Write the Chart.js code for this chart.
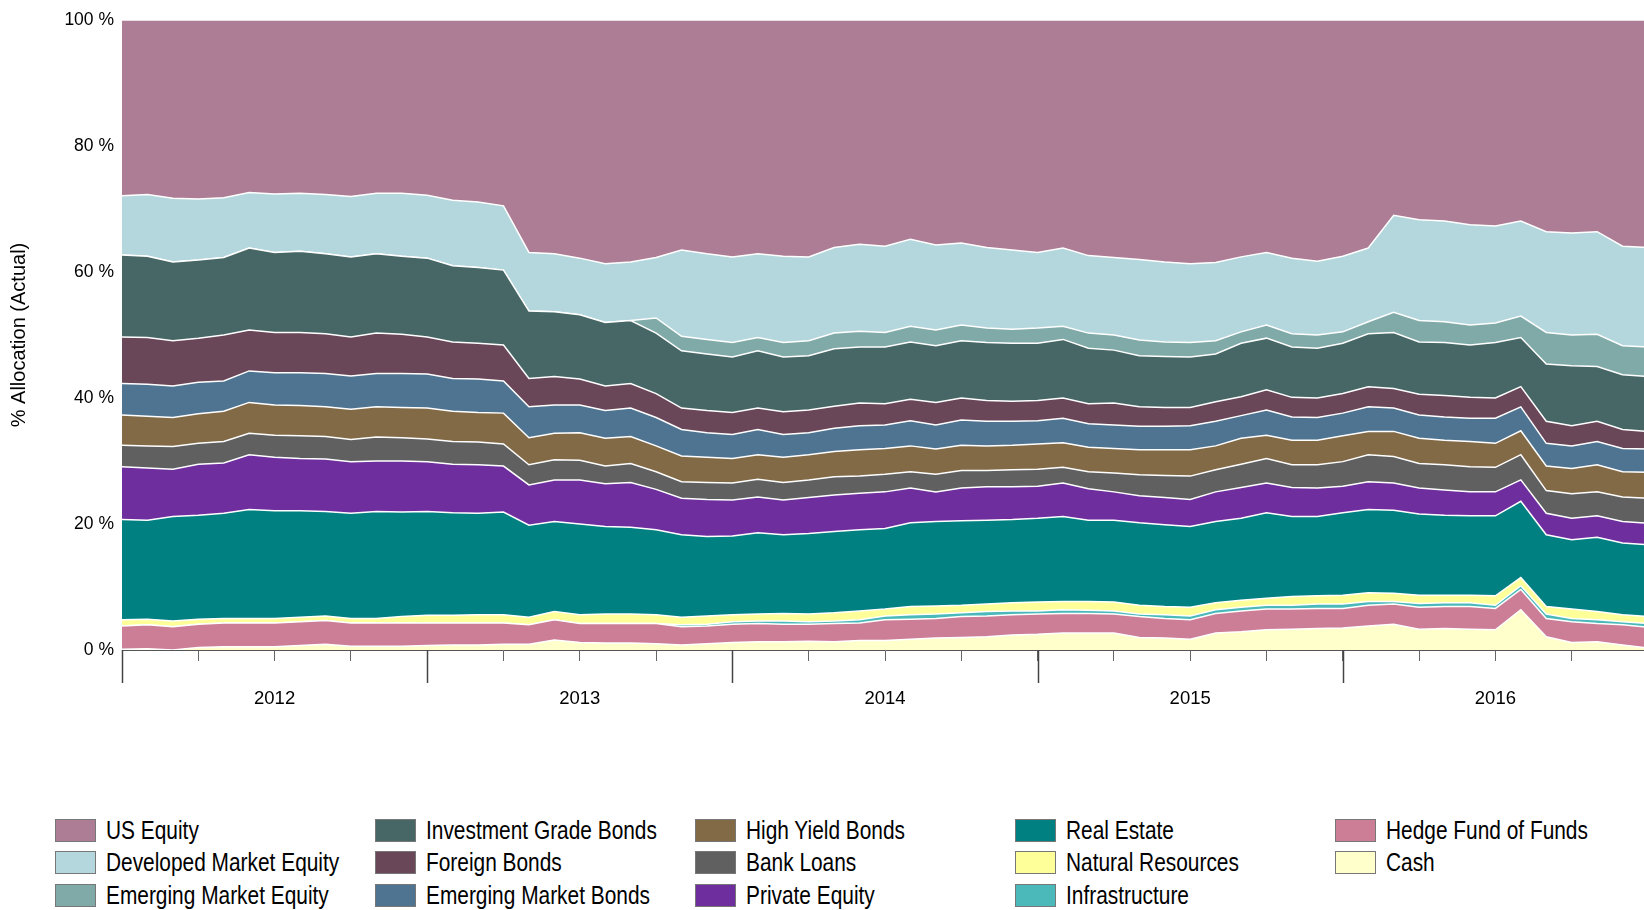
<!DOCTYPE html>
<html>
<head>
<meta charset="utf-8">
<script src="https://cdn.jsdelivr.net/npm/chart.js@4.4.1/dist/chart.umd.min.js"></script>
<style>
  html, body { margin: 0; background: #fff; overflow: hidden; }
  #wrap { position: relative; width: 1644px; height: 910px; overflow: hidden; }
  #chartBox { position: absolute; left: 0; top: 0; width: 1648px; height: 720px; }
  #legend {
    position: absolute; left: 55px; top: 814px;
    display: grid; grid-auto-flow: column;
    grid-template-rows: repeat(3, 32.5px); grid-template-columns: repeat(5, 320px);
    font-family: "Liberation Sans", Arial, sans-serif;
    font-size: 25px; color: #000;
  }
  .item { display: flex; align-items: center; white-space: nowrap; }
  .sw { flex-shrink: 0; width: 39px; height: 21px; border: 1px solid #777; margin-right: 10px; }
  .txt { display: inline-block; transform: scaleX(0.835); transform-origin: left center; }
</style>
</head>
<body>
<div id="wrap">
  <div id="chartBox"><canvas id="chart"></canvas></div>
  <div id="legend"></div>
</div>
<script>
// month-end points, Dec 2011 .. Dec 2016
const months = [
  "Dec 2011",
  "Jan 2012", "Feb 2012", "Mar 2012", "Apr 2012", "May 2012", "Jun 2012", "Jul 2012", "Aug 2012", "Sep 2012", "Oct 2012", "Nov 2012", "Dec 2012",
  "Jan 2013", "Feb 2013", "Mar 2013", "Apr 2013", "May 2013", "Jun 2013", "Jul 2013", "Aug 2013", "Sep 2013", "Oct 2013", "Nov 2013", "Dec 2013",
  "Jan 2014", "Feb 2014", "Mar 2014", "Apr 2014", "May 2014", "Jun 2014", "Jul 2014", "Aug 2014", "Sep 2014", "Oct 2014", "Nov 2014", "Dec 2014",
  "Jan 2015", "Feb 2015", "Mar 2015", "Apr 2015", "May 2015", "Jun 2015", "Jul 2015", "Aug 2015", "Sep 2015", "Oct 2015", "Nov 2015", "Dec 2015",
  "Jan 2016", "Feb 2016", "Mar 2016", "Apr 2016", "May 2016", "Jun 2016", "Jul 2016", "Aug 2016", "Sep 2016", "Oct 2016", "Nov 2016", "Dec 2016"
];

// year labels sit mid-year, long ticks at year starts
const yearLabels = { 6: "2012", 18: "2013", 30: "2014", 42: "2015", 54: "2016" };
const yearStarts = [0, 12, 24, 36, 48];
const yTicks = [0, 20, 40, 60, 80, 100];

// upper edge of each band, cumulative %
const cashTop = [
  0.1, 0.2, 0.0, 0.4, 0.5, 0.5, 0.5, 0.7, 0.9, 0.6, 0.6, 0.6, 0.7, 0.8, 0.8,
  0.9, 0.9, 1.6, 1.2, 1.1, 1.1, 1.0, 0.8, 1.0, 1.2, 1.3, 1.3, 1.4, 1.3, 1.5,
  1.5, 1.7, 1.9, 2.0, 2.1, 2.4, 2.5, 2.7, 2.7, 2.7, 2.0, 1.9, 1.7, 2.7, 2.9, 3.2,
  3.3, 3.4, 3.5, 3.8, 4.1, 3.3, 3.4, 3.3, 3.2, 6.4, 2.1, 1.2, 1.3, 0.8, 0.3
];
const hedgeTop = [
  3.8, 4.0, 3.7, 4.1, 4.3, 4.3, 4.3, 4.5, 4.7, 4.3, 4.3, 4.3, 4.3, 4.3, 4.3,
  4.3, 4.0, 4.8, 4.2, 4.2, 4.2, 4.2, 3.7, 3.8, 4.1, 4.2, 4.1, 4.1, 4.2, 4.3,
  4.8, 4.9, 5.0, 5.3, 5.4, 5.6, 5.7, 5.8, 5.8, 5.7, 5.3, 5.0, 4.8, 5.8, 6.2, 6.5,
  6.5, 6.6, 6.6, 7.1, 7.3, 6.8, 6.9, 6.9, 6.6, 9.6, 5.0, 4.5, 4.2, 4.0, 3.6
];
const infraTop = [
  3.8, 4.0, 3.7, 4.1, 4.3, 4.3, 4.3, 4.5, 4.7, 4.3, 4.3, 4.3, 4.3, 4.3, 4.3,
  4.3, 4.0, 4.8, 4.2, 4.2, 4.2, 4.2, 4.0, 4.1, 4.5, 4.6, 4.6, 4.5, 4.6, 4.8,
  5.4, 5.6, 5.7, 5.9, 6.1, 6.2, 6.2, 6.4, 6.3, 6.2, 5.7, 5.6, 5.4, 6.4, 6.8, 7.1,
  7.1, 7.3, 7.3, 7.7, 7.7, 7.4, 7.5, 7.5, 7.1, 10.2, 5.7, 5.0, 4.8, 4.5, 4.2
];
const natResTop = [
  4.8, 4.9, 4.6, 4.9, 5.0, 5.0, 5.0, 5.2, 5.4, 5.0, 5.0, 5.3, 5.5, 5.5, 5.6,
  5.6, 5.2, 6.1, 5.6, 5.7, 5.7, 5.6, 5.2, 5.4, 5.6, 5.7, 5.8, 5.7, 5.9, 6.2,
  6.5, 6.9, 7.0, 7.1, 7.3, 7.5, 7.6, 7.7, 7.7, 7.6, 7.1, 6.9, 6.8, 7.5, 7.9, 8.2,
  8.5, 8.6, 8.7, 9.1, 9.0, 8.7, 8.7, 8.7, 8.6, 11.5, 6.9, 6.5, 6.1, 5.6, 5.3
];
const realEstateTop = [
  20.7, 20.6, 21.2, 21.4, 21.7, 22.3, 22.1, 22.1, 22.0, 21.7, 22.0, 21.9, 22.0, 21.8, 21.7, 21.9, 19.8, 20.4,
  20.0, 19.6, 19.5, 19.1, 18.3, 18.0, 18.1, 18.6, 18.3, 18.5, 18.8, 19.1, 19.3, 20.2, 20.4, 20.5, 20.6, 20.7, 20.9, 21.2, 20.6,
  20.6, 20.2, 19.9, 19.6, 20.4, 20.9, 21.8, 21.2, 21.2, 21.8, 22.3, 22.2, 21.6, 21.4, 21.3, 21.3, 23.6, 18.3, 17.5, 17.9, 17.0, 16.7
];
const privateEqTop = [
  29.1, 28.9, 28.7, 29.5, 29.7, 31.0, 30.6, 30.4, 30.3, 29.9, 30.0, 30.0, 29.9, 29.5, 29.4, 29.2, 26.2, 27.0,
  27.0, 26.4, 26.6, 25.5, 24.1, 23.9, 23.8, 24.3, 23.8, 24.2, 24.6, 24.9, 25.1, 25.7, 25.1, 25.7, 25.9, 25.9, 26.0, 26.5, 25.6,
  25.1, 24.5, 24.2, 23.9, 25.1, 25.8, 26.5, 25.8, 25.7, 26.0, 26.7, 26.5, 25.7, 25.4, 25.1, 25.1, 27.0, 21.7, 20.9, 21.3, 20.4, 20.1
];
const bankLoansTop = [
  32.5, 32.4, 32.3, 32.8, 33.1, 34.4, 34.1, 34.0, 33.9, 33.4, 33.8, 33.7, 33.5, 33.1, 33.0, 32.7, 29.4, 30.2,
  30.1, 29.2, 29.6, 28.3, 26.7, 26.6, 26.5, 27.1, 26.6, 27.0, 27.5, 27.6, 27.9, 28.3, 27.9, 28.5, 28.5, 28.6, 28.7, 29.0, 28.3,
  28.1, 27.8, 27.7, 27.6, 28.6, 29.5, 30.4, 29.4, 29.4, 29.9, 31.0, 30.7, 29.6, 29.4, 29.1, 29.0, 31.0, 25.3, 24.8, 25.1, 24.3, 24.1
];
const highYieldTop = [
  37.3, 37.1, 36.9, 37.5, 37.9, 39.3, 38.9, 38.8, 38.6, 38.2, 38.6, 38.5, 38.4, 37.9, 37.7, 37.6, 33.7, 34.4,
  34.5, 33.6, 33.9, 32.4, 30.8, 30.6, 30.4, 31.0, 30.6, 31.0, 31.5, 31.8, 32.0, 32.4, 31.9, 32.5, 32.4, 32.5, 32.7, 32.9, 32.2,
  32.0, 31.8, 31.8, 31.8, 32.4, 33.6, 34.1, 33.3, 33.3, 34.0, 34.7, 34.7, 33.6, 33.3, 33.1, 32.8, 34.8, 29.2, 28.8, 29.4, 28.3, 28.2
];
const emBondsTop = [
  42.3, 42.2, 41.9, 42.5, 42.7, 44.3, 44.0, 44.0, 43.9, 43.5, 43.9, 43.9, 43.8, 43.1, 43.0, 42.7, 38.6, 38.9,
  38.9, 38.0, 38.4, 36.9, 35.0, 34.5, 34.2, 35.0, 34.2, 34.5, 35.2, 35.6, 35.7, 36.4, 35.7, 36.5, 36.3, 36.3, 36.4, 36.8, 35.9,
  35.7, 35.5, 35.5, 35.6, 36.3, 37.2, 38.1, 37.0, 36.9, 37.6, 38.6, 38.4, 37.3, 37.0, 36.8, 36.8, 38.6, 32.8, 32.4, 33.1, 32.0, 31.9
];
const foreignBondsTop = [
  49.7, 49.6, 49.1, 49.5, 50.0, 50.8, 50.4, 50.4, 50.2, 49.7, 50.3, 50.1, 49.7, 48.9, 48.7, 48.4, 43.1, 43.4,
  43.0, 41.9, 42.3, 40.7, 38.4, 38.0, 37.7, 38.4, 37.8, 38.1, 38.7, 39.2, 39.1, 39.8, 39.3, 40.0, 39.6, 39.5, 39.6, 40.0, 39.1,
  39.2, 38.6, 38.5, 38.5, 39.4, 40.2, 41.3, 40.1, 40.0, 40.7, 41.8, 41.5, 40.6, 40.4, 40.1, 40.0, 41.8, 36.3, 35.6, 36.3, 35.0, 34.7
];
const igBondsTop = [
  62.7, 62.5, 61.6, 61.9, 62.3, 63.8, 63.1, 63.3, 62.9, 62.4, 62.9, 62.5, 62.2, 61.0, 60.7, 60.3,
  53.8, 53.7, 53.2, 52.0, 52.3, 50.3, 47.5, 47.0, 46.5, 47.5, 46.5, 46.7, 47.8, 48.1, 48.1, 48.9, 48.3, 49.1, 48.8, 48.7, 48.7, 49.3, 47.9,
  47.6, 46.7, 46.6, 46.5, 47.0, 48.7, 49.5, 48.1, 47.9, 48.7, 50.2, 50.4, 48.9, 48.8, 48.4, 48.8, 49.6, 45.4, 45.1, 45.0, 43.7, 43.4
];
const emEquityTop = [
  62.7, 62.5, 61.6, 61.9, 62.3, 63.8, 63.1, 63.3, 62.9, 62.4, 62.9, 62.5, 62.2, 61.0, 60.7, 60.3,
  53.8, 53.7, 53.2, 52.0, 52.3, 52.7, 49.8, 49.3, 48.8, 49.6, 48.8, 49.1, 50.3, 50.6, 50.4, 51.4, 50.8, 51.6, 51.1, 50.9, 51.1, 51.4, 50.3,
  50.0, 49.2, 48.9, 48.8, 49.1, 50.5, 51.6, 50.2, 50.0, 50.5, 52.1, 53.6, 52.3, 52.1, 51.6, 51.9, 53.0, 50.4, 50.0, 50.1, 48.3, 48.1
];
const devEquityTop = [
  72.1, 72.3, 71.7, 71.6, 71.8, 72.6, 72.4, 72.5, 72.3, 72.0, 72.5, 72.5, 72.2, 71.4, 71.1, 70.5, 63.1, 62.9,
  62.2, 61.3, 61.6, 62.3, 63.5, 62.9, 62.4, 62.9, 62.5, 62.4, 63.9, 64.4, 64.1, 65.2, 64.3, 64.6, 63.9, 63.5, 63.1, 63.8, 62.6,
  62.3, 62.0, 61.6, 61.3, 61.5, 62.4, 63.1, 62.2, 61.7, 62.5, 63.8, 69.0, 68.3, 68.1, 67.5, 67.3, 68.1, 66.4, 66.2, 66.4, 64.1, 63.9
];
const usEquityTop = months.map(() => 100);

// bottom of the stack first
const series = [
  { label: "Cash", data: cashTop, color: "#FFFFCC" },
  { label: "Hedge Fund of Funds", data: hedgeTop, color: "#CC7E97" },
  { label: "Infrastructure", data: infraTop, color: "#4BB9B9" },
  { label: "Natural Resources", data: natResTop, color: "#FFFF99" },
  { label: "Real Estate", data: realEstateTop, color: "#008080" },
  { label: "Private Equity", data: privateEqTop, color: "#6F2E9E" },
  { label: "Bank Loans", data: bankLoansTop, color: "#606060" },
  { label: "High Yield Bonds", data: highYieldTop, color: "#836A47" },
  { label: "Emerging Market Bonds", data: emBondsTop, color: "#4E7491" },
  { label: "Foreign Bonds", data: foreignBondsTop, color: "#6A4659" },
  { label: "Investment Grade Bonds", data: igBondsTop, color: "#466766" },
  { label: "Emerging Market Equity", data: emEquityTop, color: "#7FAAA8" },
  { label: "Developed Market Equity", data: devEquityTop, color: "#B4D7DD" },
  { label: "US Equity", data: usEquityTop, color: "#AC7D95" }
];

// long ticks at the start of each year
const majorTicks = {
  id: "majorTicks",
  afterDraw(chart) {
    const xs = chart.scales.x;
    const ctx = chart.ctx;
    ctx.save();
    ctx.strokeStyle = "#444";
    ctx.lineWidth = 1.5;
    yearStarts.forEach((i) => {
      const px = Math.round(xs.getPixelForValue(i)) + 0.5;
      ctx.beginPath();
      ctx.moveTo(px, xs.top);
      ctx.lineTo(px, xs.top + 33);
      ctx.stroke();
    });
    ctx.restore();
  },
};

const ctx = document.getElementById("chart").getContext("2d");
new Chart(ctx, {
  type: "line",
  data: {
    labels: months,
    datasets: series.map((s, i) => ({
      label: s.label,
      data: s.data,
      backgroundColor: s.color,
      borderColor: "#ffffff",
      borderWidth: 1.5,
      pointRadius: 0,
      tension: 0,
      fill: i === 0 ? "origin" : "-1",
    })),
  },
  options: {
    responsive: true,
    maintainAspectRatio: false,
    animation: false,
    layout: { padding: { top: 20, right: 0, bottom: 0, left: 0 } },
    plugins: { legend: { display: false }, tooltip: { enabled: false } },
    scales: {
      x: {
        type: "category",
        afterFit: (scale) => {
          scale.height = 70;
          scale.paddingLeft = 0;
          scale.paddingRight = 0;
        },
        grid: { drawOnChartArea: false, drawTicks: true, tickLength: 11, color: "#666" },
        border: { display: true, color: "#555", width: 1 },
        ticks: {
          autoSkip: false,
          maxRotation: 0,
          padding: 27,
          color: "#000",
          font: { family: "'Liberation Sans', Arial, sans-serif", size: 18.5 },
          callback: (value, index) => (index % 3 ? null : yearLabels[index] || ""),
        },
      },
      y: {
        min: 0,
        max: 100,
        afterFit: (scale) => { scale.width = 122; },
        afterBuildTicks: (scale) => { scale.ticks = yTicks.map((v) => ({ value: v })); },
        grid: { display: false },
        border: { display: false },
        ticks: {
          padding: 0,
          color: "#000",
          font: { family: "'Liberation Sans', Arial, sans-serif", size: 17.5 },
          callback: (v) => v + " %",
        },
        title: {
          display: true,
          text: "% Allocation (Actual)",
          color: "#000",
          font: { family: "'Liberation Sans', Arial, sans-serif", size: 20 },
          padding: { top: 7, bottom: 0 },
        },
      },
    },
  },
  plugins: [majorTicks],
});

// legend: column by column, same order as the reference
const legendEl = document.getElementById("legend");
series.slice().reverse().forEach((s) => {
  const item = document.createElement("div");
  item.className = "item";
  item.innerHTML = '<span class="sw" style="background:' + s.color + '"></span><span class="txt">' + s.label + "</span>";
  legendEl.appendChild(item);
});
</script>
</body>
</html>
